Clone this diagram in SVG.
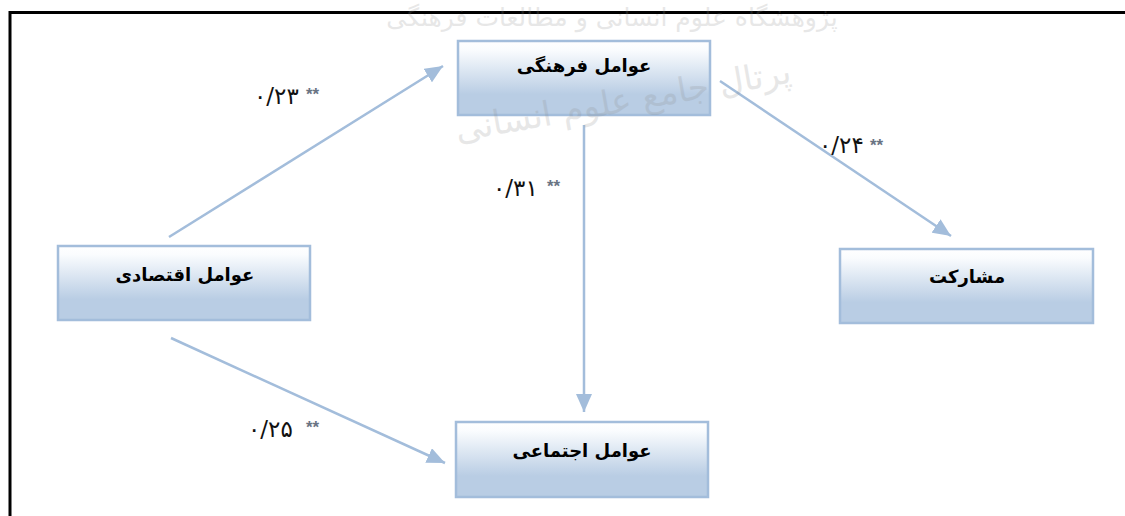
<svg xmlns="http://www.w3.org/2000/svg" width="1125" height="516" viewBox="0 0 1125 516">
<style>
.box{fill:url(#g);stroke:#a3bddb;stroke-width:2.5}
.lbl{font-family:"DejaVu Sans",sans-serif;font-weight:700;font-size:18px;fill:#000;text-anchor:middle;direction:rtl}
.num{font-family:"DejaVu Sans",sans-serif;font-size:23px;fill:#111;direction:ltr}
.st{font-family:"Liberation Sans",sans-serif;font-size:17px;font-weight:700;fill:#6a7484}
.wm{font-family:"DejaVu Sans",sans-serif;fill:#8a8a8a;opacity:.2;direction:rtl;text-anchor:middle}
.cn{stroke:#a3bddb;stroke-width:2.5;fill:none;marker-end:url(#a)}
</style>
<defs>
<linearGradient id="g" x1="0" y1="0" x2="0" y2="1"><stop offset="0" stop-color="#ffffff"/><stop offset=".12" stop-color="#fafcfe"/><stop offset=".72" stop-color="#b9cde4"/><stop offset="1" stop-color="#b9cde4"/></linearGradient>
<marker id="a" viewBox="0 0 18 16" refX="18" refY="8" markerUnits="userSpaceOnUse" markerWidth="18" markerHeight="16" orient="auto"><path d="M0 0L18 8L0 16Z" fill="#a3bddb"/></marker>
</defs>
<rect width="1125" height="516" fill="#fff"/>
<path d="M10 516V12.500H1125" fill="none" stroke="#000" stroke-width="3"/>
<g id="node-culture"><rect class="box" x="458" y="41" width="252" height="74"/><text class="lbl" x="584" y="72">عوامل فرهنگی</text></g>
<g id="node-economic"><rect class="box" x="58" y="246" width="252" height="74"/><text class="lbl" x="185" y="281">عوامل اقتصادی</text></g>
<g id="node-social"><rect class="box" x="456" y="422" width="252" height="75"/><text class="lbl" x="582" y="457">عوامل اجتماعی</text></g>
<g id="node-participation"><rect class="box" x="840" y="249" width="253" height="74"/><text class="lbl" x="967" y="283">مشارکت</text></g>
<g id="connectors">
<line class="cn" x1="169" y1="237" x2="443" y2="66"/>
<line class="cn" x1="720" y1="81" x2="951" y2="236"/>
<line class="cn" x1="584" y1="125" x2="584" y2="412"/>
<line class="cn" x1="171" y1="338" x2="445" y2="463"/>
</g>
<g id="labels">
<text class="num" x="254" y="104">۰/۲۳</text><text class="st" x="306" y="100">**</text>
<text class="num" x="493" y="196">۰/۳۱</text><text class="st" x="547" y="192">**</text>
<text class="num" x="819" y="153">۰/۲۴</text><text class="st" x="870" y="151">**</text>
<text class="num" x="248" y="437">۰/۲۵</text><text class="st" x="306" y="433">**</text>
</g>
<g id="watermark">
<text class="wm" font-size="34" transform="translate(625 112) rotate(-10)">پرتال جامع علوم انسانی</text>
<text class="wm" font-size="25" x="612" y="26">پژوهشگاه علوم انسانی و مطالعات فرهنگی</text>
</g>
</svg>
